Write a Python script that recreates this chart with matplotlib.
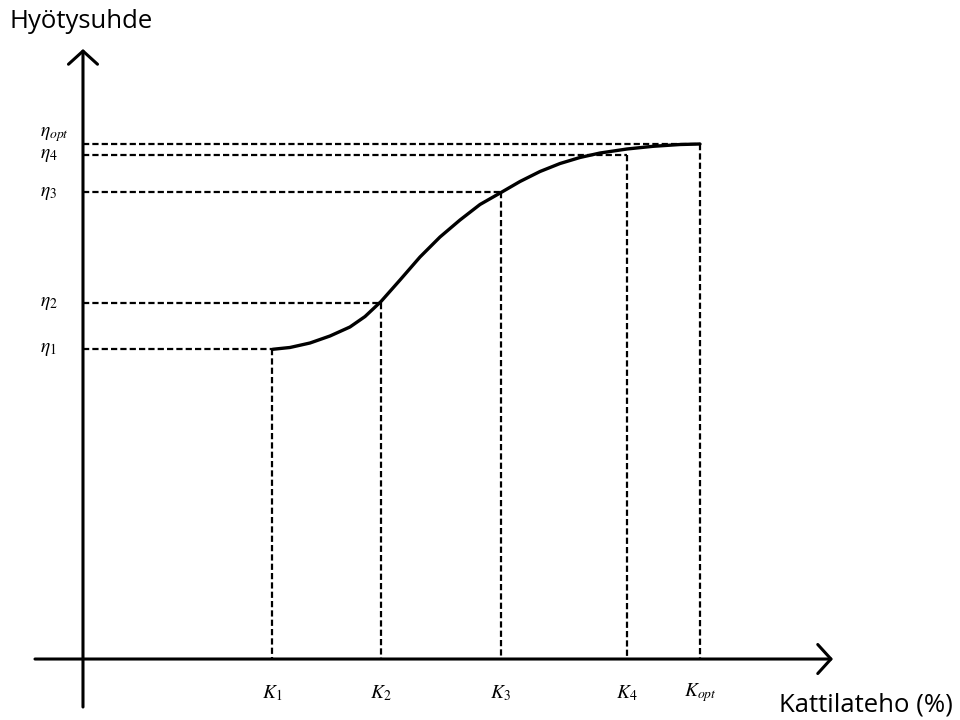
import matplotlib
matplotlib.use("Agg")
import matplotlib.pyplot as plt

# ---- data ----
k_labels = [r"$K_1$", r"$K_2$", r"$K_3$", r"$K_4$", r"$K_{opt}$"]
eta_labels = [r"$\eta_1$", r"$\eta_2$", r"$\eta_3$", r"$\eta_4$", r"$\eta_{opt}$"]
k_values = [30.7, 48.3, 67.7, 88.2, 100.0]
eta_values = [60.2, 69.2, 90.6, 97.9, 100.0]

curve_x = [30.75, 33.55, 36.79, 40.03, 43.27, 45.71, 48.30, 51.38, 54.62,
           57.86, 61.10, 64.34, 67.75, 70.83, 74.07, 77.31, 80.55, 83.79,
           88.17, 92.38, 96.76, 100.0]
curve_y = [60.14, 60.49, 61.36, 62.72, 64.47, 66.50, 69.42, 73.59, 78.06,
           81.94, 85.24, 88.25, 90.58, 92.72, 94.66, 96.21, 97.38, 98.25,
           99.03, 99.55, 99.90, 100.0]

x_title = "Kattilateho (%)"
y_title = "Hyötysuhde"

plt.rcParams["mathtext.fontset"] = "stix"

fig = plt.figure(figsize=(9.6, 7.2), dpi=100)
ax = fig.add_axes([0, 0, 1, 1])
ax.set_xlim(-13.45, 142.14)
ax.set_ylim(-11.84, 127.96)
ax.axis("off")

# axes with arrows
arrow = dict(arrowstyle="->,head_length=0.5,head_width=0.55", lw=2.2,
             color="black", shrinkA=0, shrinkB=0, mutation_scale=19)
ax.annotate("", xy=(121.56, 0), xytext=(-7.78, 0), arrowprops=arrow)
ax.annotate("", xy=(0, 118.45), xytext=(0, -9.32), arrowprops=arrow)

# dashed guide lines
dash = dict(color="black", lw=1.6, dashes=(2.8, 1.4))
for k, e in zip(k_values, eta_values):
    ax.plot([0, k], [e, e], **dash)
    ax.plot([k, k], [e, 0], **dash)

# curve
ax.plot(curve_x, curve_y, color="black", lw=2.4, solid_joinstyle="round",
        solid_capstyle="round")

# eta labels
for i, (lab, e) in enumerate(zip(eta_labels, eta_values)):
    dy = 7 if i == len(eta_values) - 1 else 0
    ax.annotate(lab, xy=(0, e), xytext=(-31, dy), textcoords="offset points",
                ha="left", va="center", fontsize=14)

# K labels
for lab, k in zip(k_labels, k_values):
    ax.annotate(lab, xy=(k, 0), xytext=(0, -24.5), textcoords="offset points",
                ha="center", va="center", fontsize=14)

# axis titles
fig.text(10 / 960, 1 - 22 / 720, y_title, ha="left", va="center",
         fontsize=18.5, family="Open Sans")
fig.text(953 / 960, 1 - 705 / 720, x_title, ha="right", va="center",
         fontsize=18.5, family="Open Sans")

fig.savefig("out.png", dpi=100)
